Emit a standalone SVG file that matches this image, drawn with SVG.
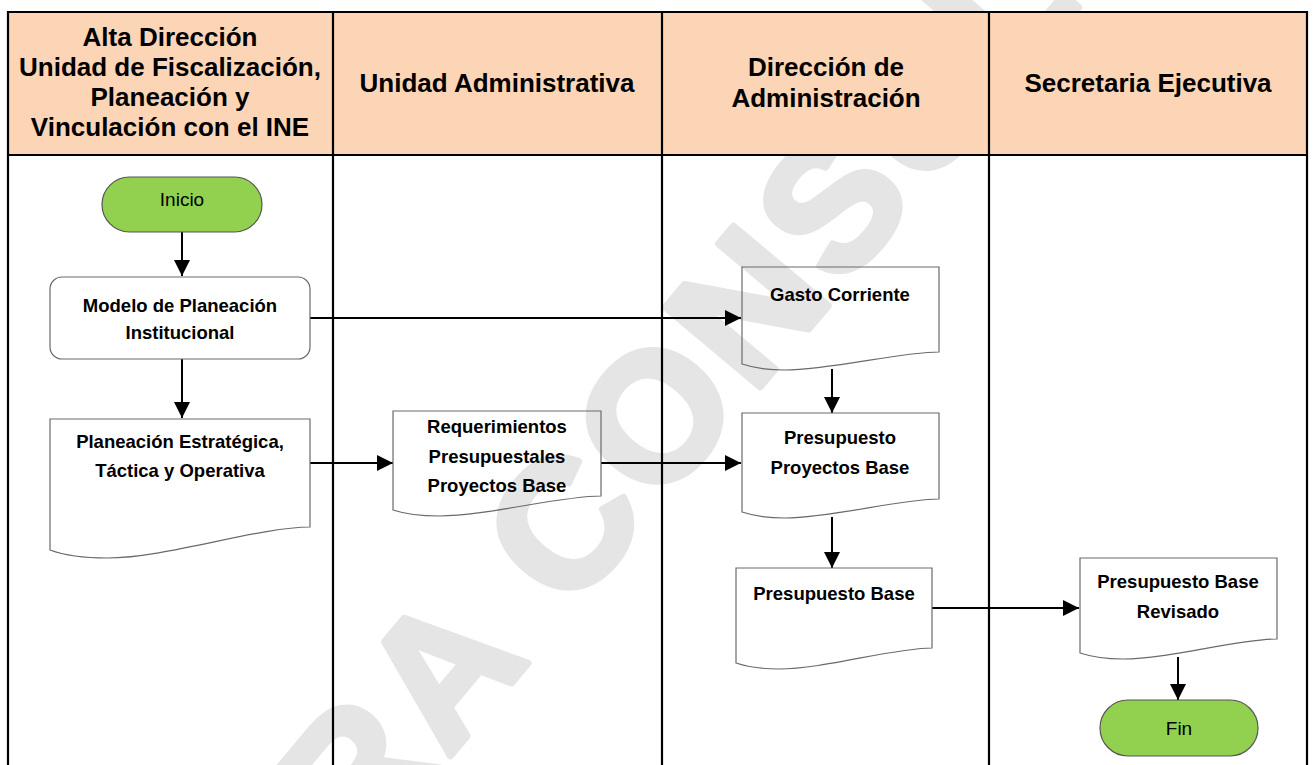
<svg xmlns="http://www.w3.org/2000/svg" width="1315" height="765" viewBox="0 0 1315 765">
  <style>
    .hdr { font-family: "Liberation Sans", Arial, sans-serif; font-weight: bold; font-size: 26px; fill: #000; text-anchor: middle; }
    .lbl { font-family: "Liberation Sans", Arial, sans-serif; font-weight: bold; font-size: 18.5px; fill: #000; text-anchor: middle; }
    .term { font-family: "Liberation Sans", Arial, sans-serif; font-size: 19px; fill: #000; text-anchor: middle; }
    .shape { fill: none; stroke: #6a6a6a; stroke-width: 1.2; }
    .startend { fill: #92d050; stroke: #555; stroke-width: 1.2; }
    .lane { stroke: #000; stroke-width: 2.2; fill: none; }
    .conn { stroke: #000; stroke-width: 2; fill: none; marker-end: url(#ah); }
    .wm { font-family: "Liberation Sans", Arial, sans-serif; font-weight: bold; font-size: 180px; fill: #e5e5e5; stroke: #e5e5e5; stroke-width: 7; stroke-linejoin: round; }
  </style>
  <defs>
    <marker id="ah" markerWidth="16" markerHeight="16" refX="16" refY="8" orient="auto" markerUnits="userSpaceOnUse">
      <path d="M0,0 L16,8 L0,16 Z" fill="#000"/>
    </marker>
  </defs>
  <rect x="0" y="0" width="1315" height="765" fill="#fff"/>

  <!-- watermark -->
  <text class="wm" transform="translate(197,1058) rotate(-50)" textLength="1606" lengthAdjust="spacing">PARA CONSULTA</text>

  <!-- swimlane table -->
  <g id="lanes">
    <rect x="8" y="12" width="1299" height="143" fill="#fbd5b5"/>
    <path class="lane" d="M8,765 V12 H1307 V765 M8,155 H1307 M333,12 V765 M662,12 V765 M989,12 V765"/>
    <text class="hdr" x="170" y="46">Alta Dirección</text>
    <text class="hdr" x="170" y="76">Unidad de Fiscalización,</text>
    <text class="hdr" x="170" y="106">Planeación y</text>
    <text class="hdr" x="170" y="136">Vinculación con el INE</text>
    <text class="hdr" x="497" y="92">Unidad Administrativa</text>
    <text class="hdr" x="826" y="76">Dirección de</text>
    <text class="hdr" x="826" y="107">Administración</text>
    <text class="hdr" x="1148" y="92">Secretaria Ejecutiva</text>
  </g>

  <!-- connectors -->
  <g id="connectors">
    <path class="conn" d="M182,232 V276"/>
    <path class="conn" d="M182,359 V418"/>
    <path class="conn" d="M310,318 H741"/>
    <path class="conn" d="M310,463 H393"/>
    <path class="conn" d="M601,463 H741"/>
    <path class="conn" d="M832,369 V413"/>
    <path class="conn" d="M832,517 V568"/>
    <path class="conn" d="M932,608 H1079"/>
    <path class="conn" d="M1178,657 V700"/>
  </g>

  <!-- nodes -->
  <g id="inicio">
    <rect class="startend" x="102" y="177" width="160" height="55" rx="27.5"/>
    <text class="term" x="182" y="206">Inicio</text>
  </g>
  <g id="modelo">
    <rect class="shape" x="50" y="277" width="260" height="82" rx="12"/>
    <text class="lbl" x="180" y="312">Modelo de Planeación</text>
    <text class="lbl" x="180" y="339">Institucional</text>
  </g>
  <g id="planeacion">
    <path class="shape" d="M50,419 H310 V527 C258,527 167,558 107,558 C76,558 58,553 50,550 Z"/>
    <text class="lbl" x="180" y="448">Planeación Estratégica,</text>
    <text class="lbl" x="180" y="477">Táctica y Operativa</text>
  </g>
  <g id="requerimientos">
    <path class="shape" d="M393,411 H601 V496 C559,496 487,516 439,516 C414,516 399,512 393,510 Z"/>
    <text class="lbl" x="497" y="433">Requerimientos</text>
    <text class="lbl" x="497" y="463">Presupuestales</text>
    <text class="lbl" x="497" y="492">Proyectos Base</text>
  </g>
  <g id="gasto">
    <path class="shape" d="M742,267 H939 V352 C900,352 831,370 785,370 C762,370 748,366 742,364 Z"/>
    <text class="lbl" x="840" y="301">Gasto Corriente</text>
  </g>
  <g id="presupuesto-proyectos">
    <path class="shape" d="M742,413 H939 V499 C900,499 831,518 785,518 C762,518 748,514 742,512 Z"/>
    <text class="lbl" x="840" y="444">Presupuesto</text>
    <text class="lbl" x="840" y="474">Proyectos Base</text>
  </g>
  <g id="presupuesto-base">
    <path class="shape" d="M736,568 H932 V648 C893,648 824,669 779,669 C756,669 742,665 736,663 Z"/>
    <text class="lbl" x="834" y="600">Presupuesto Base</text>
  </g>
  <g id="presupuesto-revisado">
    <path class="shape" d="M1080,558 H1277 V639 C1238,639 1169,659 1123,659 C1100,659 1086,655 1080,653 Z"/>
    <text class="lbl" x="1178" y="588">Presupuesto Base</text>
    <text class="lbl" x="1178" y="618">Revisado</text>
  </g>
  <g id="fin">
    <rect class="startend" x="1100" y="700" width="158" height="56" rx="28"/>
    <text class="term" x="1179" y="735">Fin</text>
  </g>
</svg>
